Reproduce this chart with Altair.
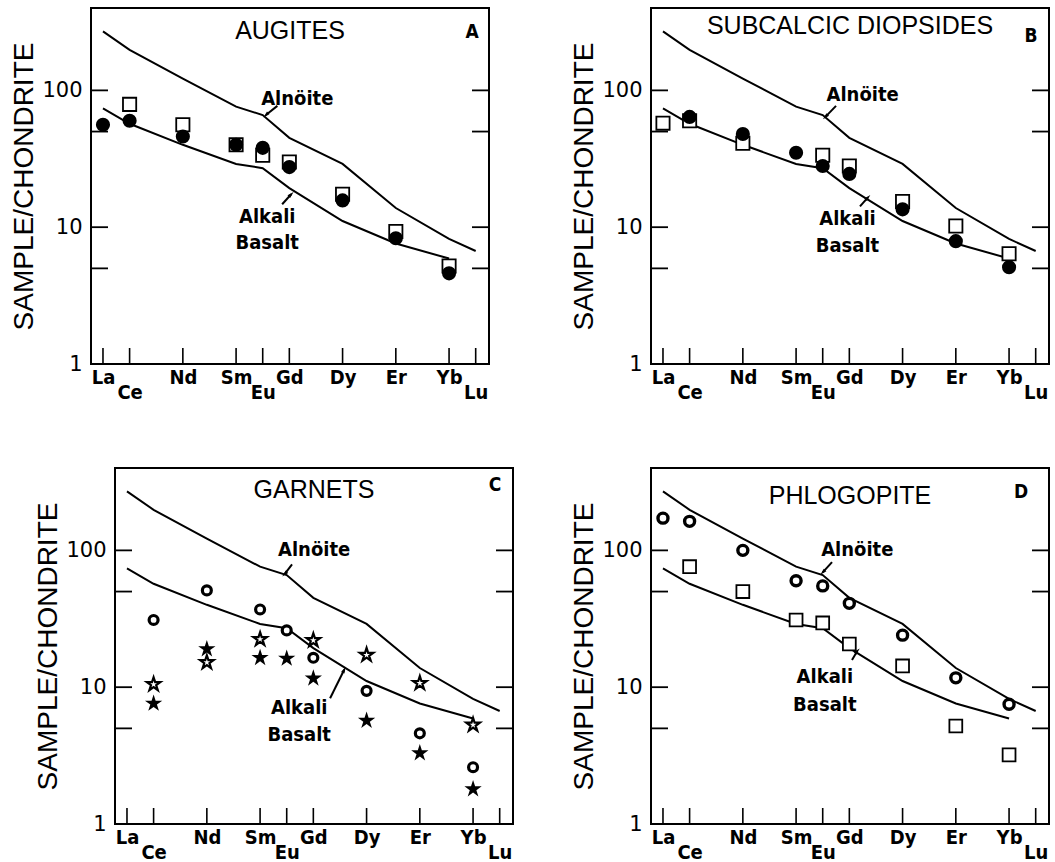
import altair as alt
import pandas as pd

# ---------------- data ----------------
REE = ["La", "Ce", "Nd", "Sm", "Eu", "Gd", "Dy", "Er", "Yb", "Lu"]
Z = [57, 58, 60, 62, 63, 64, 66, 68, 70, 71]
LOWERED = ["Ce", "Eu", "Lu"]
ZMAP = dict(zip(REE, Z))

ALNOITE_EL = ["La", "Ce", "Nd", "Sm", "Eu", "Gd", "Dy", "Er", "Yb", "Lu"]
ALNOITE = [270, 198, 122, 76, 66, 45, 29, 13.8, 8.2, 6.7]
ALKALI_EL = ["La", "Ce", "Nd", "Sm", "Eu", "Gd", "Dy", "Er", "Yb"]
ALKALI = [74, 57, 40, 29, 27, 19.3, 11.1, 7.6, 5.9]

Y_LABELS = [1, 10, 100]
Y_TICKS = [5, 10, 50, 100]

# A: augites
A_SQ_EL = ["Ce", "Nd", "Sm", "Eu", "Gd", "Dy", "Er", "Yb"]
A_SQ = [79, 56, 40, 33.6, 30, 17.4, 9.3, 5.2]
A_CI_EL = ["La", "Ce", "Nd", "Sm", "Eu", "Gd", "Dy", "Er", "Yb"]
A_CI = [56, 60, 46, 40, 38, 27.5, 15.7, 8.3, 4.6]

# B: subcalcic diopsides
B_SQ_EL = ["La", "Ce", "Nd", "Eu", "Gd", "Dy", "Er", "Yb"]
B_SQ = [57.6, 60, 41, 33.6, 28, 15.4, 10.2, 6.4]
B_CI_EL = ["Ce", "Nd", "Sm", "Eu", "Gd", "Dy", "Er", "Yb"]
B_CI = [64, 48, 35, 28, 24.5, 13.5, 7.9, 5.1]

# C: garnets
C_CI_EL = ["Ce", "Nd", "Sm", "Eu", "Gd", "Dy", "Er", "Yb"]
C_CI = [31, 51, 37, 26, 16.4, 9.4, 4.6, 2.6]
C_OS_EL = ["Ce", "Nd", "Sm", "Gd", "Dy", "Er", "Yb"]
C_OS = [10.5, 15.2, 22.4, 22, 17.2, 10.7, 5.3]
C_FS_EL = ["Ce", "Nd", "Sm", "Eu", "Gd", "Dy", "Er", "Yb"]
C_FS = [7.6, 19, 16.4, 16.2, 11.6, 5.7, 3.3, 1.8]

# D: phlogopite
D_CI_EL = ["La", "Ce", "Nd", "Sm", "Eu", "Gd", "Dy", "Er", "Yb"]
D_CI = [172, 163, 100, 60, 55, 41, 24, 11.7, 7.5]
D_SQ_EL = ["Ce", "Nd", "Sm", "Eu", "Gd", "Dy", "Er", "Yb"]
D_SQ = [76, 50, 31, 29.5, 20.7, 14.3, 5.2, 3.2]

# annotations: label text, x (atomic number), y value
A_ANN_TEXT = ["Alnöite", "Alkali", "Basalt"]
A_ANN_Z = [64.3, 63.17, 63.17]
A_ANN_V = [87, 11.8, 7.7]
A_ARROW = dict(z=[63.55, 63.73], v=[77, 14.7], z2=[63.12, 64.07], v2=[66, 17.4], a=[225, 45])

B_ANN_TEXT = ["Alnöite", "Alkali", "Basalt"]
B_ANN_Z = [64.5, 63.93, 63.93]
B_ANN_V = [93, 11.4, 7.3]
B_ARROW = dict(z=[63.5, 64.4], v=[77, 14.2], z2=[63.1, 64.7], v2=[64, 16.5], a=[225, 45])

C_ANN_TEXT = ["Alnöite", "Alkali", "Basalt"]
C_ANN_Z = [64.03, 63.47, 63.47]
C_ANN_V = [100, 7.1, 4.5]
C_ARROW = dict(z=[63.2, 64.63], v=[79, 8.3], z2=[62.92, 65.16], v2=[67, 13.4], a=[225, 26])

D_ANN_TEXT = ["Alnöite", "Alkali", "Basalt"]
D_ANN_Z = [64.3, 63.08, 63.08]
D_ANN_V = [100, 11.8, 7.4]
D_ARROW = dict(z=[63.35, 64.1], v=[82, 15.8], z2=[63.0, 64.3], v2=[69, 18.4], a=[225, 45])

# ---------------- styling ----------------
W, H = 398, 356
BOLD = "Liberation Sans Narrow, DejaVu Sans Condensed, sans-serif"
STAR = ("M0,-1L0.2245,-0.309L0.9511,-0.309L0.3633,0.118L0.5878,0.809L0,0.382"
        "L-0.5878,0.809L-0.3633,0.118L-0.9511,-0.309L-0.2245,-0.309Z")
HEAD = "M0,-1L0.55,1L-0.55,1Z"

label_expr = "".join(
    f"datum.value == {z} ? " + (f"['', '{n}']" if n in LOWERED else f"'{n}'") + " : "
    for n, z in zip(REE, Z)
) + "''"

XSCALE = alt.Scale(domain=[56.55, 71.5], nice=False, zero=False)
YSCALE = alt.Scale(type="log", domain=[1, 400], nice=False)
XAXIS = alt.Axis(values=Z, labelExpr=label_expr, title=None, domain=False, ticks=False,
                 grid=False, labelFont=BOLD, labelFontWeight="bold", labelFontSize=20,
                 labelLineHeight=15, labelPadding=3, labelColor="black",
                 labelOverlap=False, labelBound=False, labelFlush=False)
YAXIS = alt.Axis(values=Y_LABELS, format="d", title="SAMPLE/CHONDRITE", domain=False,
                 ticks=False, grid=False, labelFont="DejaVu Sans", labelFontSize=21,
                 labelColor="black", labelPadding=9, titleFont="Liberation Sans",
                 titleFontSize=28, titleFontWeight="normal", titleColor="black",
                 titlePadding=3, labelOverlap=False, labelFlush=False)


def xe(field="z"):
    return alt.X(f"{field}:Q", scale=XSCALE, axis=XAXIS)


def ye(field="v"):
    return alt.Y(f"{field}:Q", scale=YSCALE, axis=YAXIS)


def df(els, vals):
    return pd.DataFrame({"z": [ZMAP[e] for e in els], "v": vals})


def pts(els, vals, **mark):
    return alt.Chart(df(els, vals)).mark_point(opacity=1, **mark).encode(x=xe(), y=ye())


STYLES = {
    "filled_circle": dict(shape="circle", size=200, filled=True, color="black"),
    "open_square": dict(shape="square", size=175, filled=True, fill="white",
                        stroke="black", strokeWidth=1.8),
    "open_square_s": dict(shape="square", size=165, filled=True, fill="white",
                          stroke="black", strokeWidth=1.8),
    "ring": dict(shape="circle", size=80, filled=True, fill="white",
                 stroke="black", strokeWidth=3.2),
    "ring_l": dict(shape="circle", size=100, filled=True, fill="white",
                   stroke="black", strokeWidth=3.4),
    "open_star": dict(shape=STAR, size=200, filled=True, fill="white",
                      stroke="black", strokeWidth=2.2),
    "filled_star": dict(shape=STAR, size=330, filled=True, color="black"),
}


def panel(title, letter, marker_specs, ann_text, ann_z, ann_v, arrow, title_y,
          letter_dx, letter_y):
    markers = [pts(els, vals, **STYLES[kind]) for kind, els, vals in marker_specs]
    alnoite = alt.Chart(df(ALNOITE_EL, ALNOITE)).mark_line(color="black", strokeWidth=2).encode(
        x=xe(), y=ye())
    alkali = alt.Chart(df(ALKALI_EL, ALKALI)).mark_line(color="black", strokeWidth=2).encode(
        x=xe(), y=ye())
    xt = alt.Chart(pd.DataFrame({"z": Z})).mark_rule(color="black", strokeWidth=1.6).encode(
        x=xe(), y=alt.value(H), y2=alt.value(H - 16))
    ytl = alt.Chart(pd.DataFrame({"v": Y_TICKS})).mark_rule(color="black", strokeWidth=1.8).encode(
        y=ye(), x=alt.value(0), x2=alt.value(17))
    ytr = alt.Chart(pd.DataFrame({"v": Y_TICKS})).mark_rule(color="black", strokeWidth=1.8).encode(
        y=ye(), x=alt.value(W - 17), x2=alt.value(W))
    ttl = alt.Chart(pd.DataFrame({"t": [title]})).mark_text(
        font="Liberation Sans", fontSize=25, color="black", baseline="middle", align="center"
    ).encode(text="t:N", x=alt.value(W / 2), y=alt.value(title_y))
    let = alt.Chart(pd.DataFrame({"t": [letter]})).mark_text(
        font=BOLD, fontWeight="bold", fontSize=19, color="black", baseline="middle", align="center"
    ).encode(text="t:N", x=alt.value(W - letter_dx), y=alt.value(letter_y))
    ann = alt.Chart(pd.DataFrame({"t": ann_text, "z": ann_z, "v": ann_v})).mark_text(
        font=BOLD, fontWeight="bold", fontSize=20, color="black", baseline="middle", align="center"
    ).encode(text="t:N", x=xe(), y=ye())
    adf = pd.DataFrame(arrow)
    shaft = alt.Chart(adf).mark_rule(color="black", strokeWidth=2).encode(
        x=xe(), y=ye(), x2="z2:Q", y2="v2:Q")
    head = alt.Chart(adf).mark_point(shape=HEAD, size=45, filled=True, color="black", opacity=1).encode(
        x=xe("z2"), y=ye("v2"), angle=alt.Angle("a:Q", scale=None))
    layers = [alnoite, alkali, xt, ytl, ytr] + markers + [shaft, head, ann, ttl, let]
    return alt.layer(*layers).properties(width=W, height=H)


def spacer(w):
    return alt.Chart(pd.DataFrame({"s": [0]})).mark_rect(opacity=0).encode(
        x=alt.value(0), x2=alt.value(w), y=alt.value(0), y2=alt.value(1)
    ).properties(width=w, height=10, view=alt.ViewBackground(strokeOpacity=0))


pA = panel("AUGITES", "A",
           [("open_square", A_SQ_EL, A_SQ), ("filled_circle", A_CI_EL, A_CI)],
           A_ANN_TEXT, A_ANN_Z, A_ANN_V, A_ARROW, 23, 17, 24)
pB = panel("SUBCALCIC DIOPSIDES", "B",
           [("open_square", B_SQ_EL, B_SQ), ("filled_circle", B_CI_EL, B_CI)],
           B_ANN_TEXT, B_ANN_Z, B_ANN_V, B_ARROW, 18, 18, 28)
pC = panel("GARNETS", "C",
           [("ring", C_CI_EL, C_CI), ("open_star", C_OS_EL, C_OS), ("filled_star", C_FS_EL, C_FS)],
           C_ANN_TEXT, C_ANN_Z, C_ANN_V, C_ARROW, 22, 18, 17)
pD = panel("PHLOGOPITE", "D",
           [("ring_l", D_CI_EL, D_CI), ("open_square_s", D_SQ_EL, D_SQ)],
           D_ANN_TEXT, D_ANN_Z, D_ANN_V, D_ARROW, 28, 28, 24)

row1 = alt.hconcat(spacer(1), alt.hconcat(pA, pB, spacing=78), spacing=0)
row2 = alt.hconcat(spacer(25), alt.hconcat(pC, pD, spacing=54), spacing=0)

chart = alt.vconcat(row1, row2, spacing=64).properties(
    padding={"left": 8, "top": 7, "right": 0, "bottom": 0},
    background="white",
).configure_view(stroke="black", strokeWidth=2)

chart.save("out.html", embed_options={"renderer": "svg", "actions": False})
